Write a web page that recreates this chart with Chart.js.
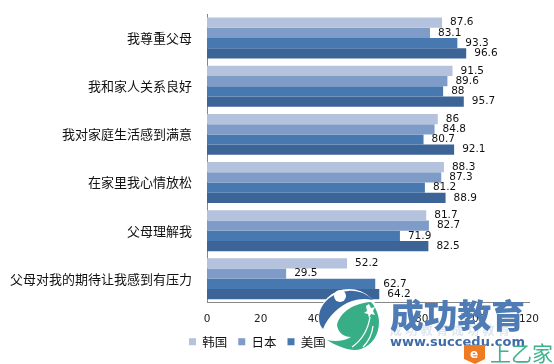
<!DOCTYPE html>
<html><head><meta charset="utf-8">
<script src="https://cdn.jsdelivr.net/npm/chart.js@4"></script>
<style>
html,body{margin:0;padding:0;background:#fff;overflow:hidden}
#wrap{position:relative;width:554px;height:364px}
canvas{position:absolute;left:0;top:0}
#wm{position:absolute;left:0;top:0;pointer-events:none}
</style></head><body>
<div id="wrap"><canvas id="c" width="554" height="364"></canvas>
<svg id="wm" width="554" height="364" viewBox="0 0 554 364">
<circle cx="349" cy="320" r="31" fill="#fff"/>
<rect x="328" y="334" width="58" height="18" fill="#fff"/>
<path d="M319 318 C319 305 330 293 348 291 C358 290 367 294 373 300 C365 298 358 299 352 301 C340 305 328 316 323 329 C320 326 319 322 319 318Z" fill="#3c6ba3"/>
<circle cx="340" cy="296" r="6" fill="#fff"/>
<path d="M337 325 C340 312 354 303 371 302 C376 307 379 316 379 322 C379 335 372 345 361 349 C352 352 338 347 327 340 C335 342 345 341 351 337 C344 337 338 333 337 325Z" fill="#38ae87"/>
<path d="M370 317 C368 330 362 340 352 347 M373 326 C372 335 368 342 363 347" fill="none" stroke="#fff" stroke-width="1.3"/>
<path d="M369 304 l2 4 l4 -1 l-2 4 l2 4 l-4 -1 l-2 4 l-1 -4 l-4 -1 l3 -2 l-1 -5z" fill="#fff"/>
<text x="390" y="335" font-family="'Noto Sans CJK SC'" font-weight="700" font-size="12" fill="#dfe6f1" textLength="120">成功教育成功教育</text>
<text x="390" y="328" font-family="'Noto Sans CJK SC'" font-weight="900" font-size="33" textLength="135" lengthAdjust="spacingAndGlyphs" fill="#4f7cb4">成功教育</text>
<text x="390" y="346" font-family="'DejaVu Sans'" font-weight="700" font-size="12.5" textLength="135" lengthAdjust="spacingAndGlyphs" fill="#3f6ca8">www.succedu.com</text>
<path d="M464 345 h21 v14 l-10 5 l-11 -5z" fill="#ee7b22"/>
<text x="470" y="358" font-family="'DejaVu Sans'" font-weight="700" font-size="12" fill="#fff">e</text>
<text x="490" y="361" font-family="'Noto Sans CJK SC'" font-size="21" fill="#3cb48a">上乙家</text>
</svg></div>
<script>
const categories = ["我尊重父母","我和家人关系良好","我对家庭生活感到满意","在家里我心情放松","父母理解我","父母对我的期待让我感到有压力"];
const korea = [87.6,91.5,86,88.3,81.7,52.2];
const japan = [83.1,89.6,84.8,87.3,82.7,29.5];
const usa = [93.3,88,80.7,81.2,71.9,62.7];
const china = [96.6,95.7,92.1,88.9,82.5,64.2];
const seriesNames = ["韩国","日本","美国","中国"];
const seriesColors = ["#B4C2DD","#7F9BC8","#4878B0","#3C6496"];
const xTicks = [0,20,40,60,80,100,120];
const seriesValues = [korea,japan,usa,china];

const valueLabels = {
  id:"valueLabels",
  afterLayout(chart){ chart.legend.left += 10; },
  afterDatasetsDraw(chart){
    const g = chart.ctx;
    g.save();
    g.font = "10.5px 'DejaVu Sans'";
    g.fillStyle = "#111";
    g.textBaseline = "middle";
    g.textAlign = "left";
    chart.data.datasets.forEach((d,i)=>{
      chart.getDatasetMeta(i).data.forEach((bar,j)=>{
        g.fillText(String(d.data[j]), bar.x+8, bar.y);
      });
    });
    g.restore();
  }
};

new Chart(document.getElementById("c"),{
  type:"bar",
  data:{labels:categories,datasets:seriesNames.map((n,i)=>({label:n,data:seriesValues[i],backgroundColor:seriesColors[i],borderWidth:0,categoryPercentage:0.85,barPercentage:1}))},
  options:{
    indexAxis:"y",responsive:false,animation:false,devicePixelRatio:1,
    layout:{padding:{left:0,right:0,top:14,bottom:6}},
    plugins:{
      title:{display:false},tooltip:{enabled:false},
      legend:{position:"bottom",labels:{boxWidth:7,boxHeight:7,padding:11,color:"#111",font:{family:"'Noto Sans CJK SC'",size:12.5}}}
    },
    scales:{
      x:{min:0,max:120,afterBuildTicks(s){s.ticks=xTicks.map(v=>({value:v}));},
         afterFit(s){s.height-=11;s.paddingRight=25;s.paddingLeft=0;},
         grid:{display:false,drawTicks:false},border:{color:"#868686",width:1},
         ticks:{color:"#222",padding:10,maxRotation:0,font:{family:"'DejaVu Sans'",size:10.5}}},
      y:{afterFit(s){s.width=207;s.paddingTop=0;s.paddingBottom=0;},grid:{display:false,drawTicks:false},border:{color:"#868686",width:1},
         ticks:{color:"#111",padding:15,autoSkip:false,font:{family:"'Noto Sans CJK SC'",size:13}}}
    }
  },
  plugins:[valueLabels]
});
</script></body></html>
